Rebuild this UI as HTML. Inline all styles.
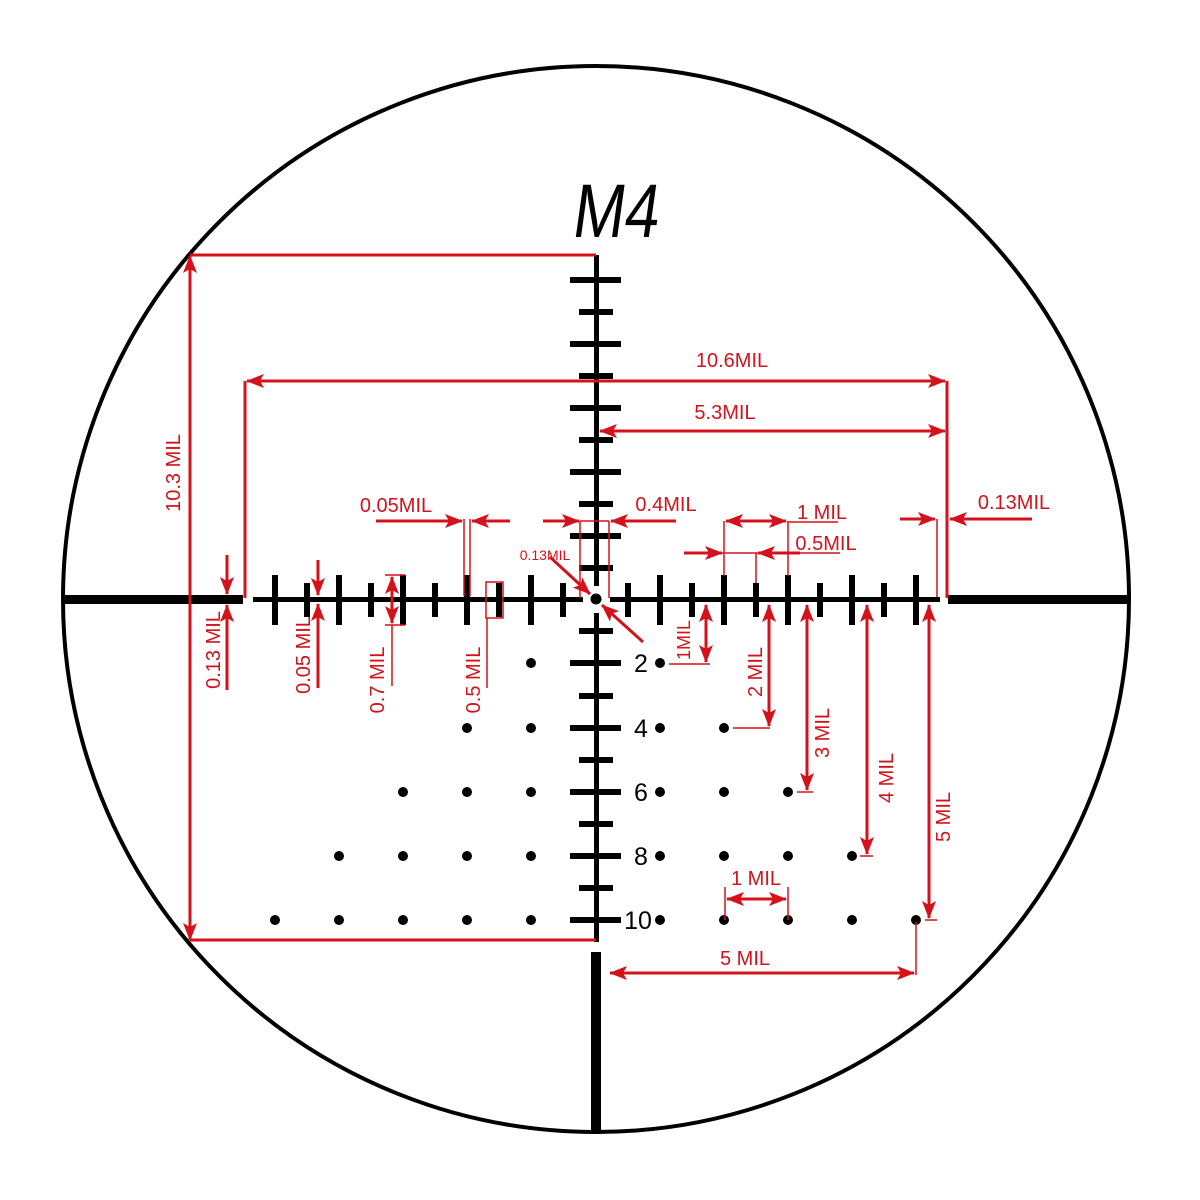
<!DOCTYPE html>
<html><head><meta charset="utf-8"><style>
html,body{margin:0;padding:0;background:#fff;}
svg{display:block;}
text{font-family:"Liberation Sans",sans-serif;}
</style></head><body>
<svg width="1200" height="1200" viewBox="0 0 1200 1200" xmlns="http://www.w3.org/2000/svg">
<defs>
<marker id="a" viewBox="0 0 18 14" refX="17" refY="7" markerWidth="18" markerHeight="14" markerUnits="userSpaceOnUse" orient="auto-start-reverse">
<path d="M0,0 L18,7 L0,14 L4,7 z" fill="#d3121c"/>
</marker>
</defs>
<rect width="1200" height="1200" fill="#fff"/>
<circle cx="596" cy="599" r="533" fill="none" stroke="#000" stroke-width="4"/>
<!-- thick bars -->
<rect x="62" y="595" width="181" height="9" fill="#000"/>
<rect x="948" y="595" width="180" height="9" fill="#000"/>
<rect x="591" y="952" width="10" height="178" fill="#000"/>
<!-- fine lines -->
<g fill="#000">
<rect x="253" y="597" width="330" height="5"/>
<rect x="610" y="597" width="330" height="5"/>
<rect x="594" y="255" width="5" height="331"/>
<rect x="594" y="613" width="5" height="329"/>
<circle cx="596" cy="599" r="5.5"/>
</g>
<!-- horizontal ticks -->
<g stroke="#000" stroke-width="6">
<line x1="275" y1="575" x2="275" y2="625"/><line x1="307" y1="583" x2="307" y2="617"/>
<line x1="339" y1="575" x2="339" y2="625"/><line x1="371" y1="583" x2="371" y2="617"/>
<line x1="403" y1="575" x2="403" y2="625"/><line x1="435" y1="583" x2="435" y2="617"/>
<line x1="467" y1="575" x2="467" y2="625"/><line x1="499" y1="583" x2="499" y2="617"/>
<line x1="531" y1="575" x2="531" y2="625"/><line x1="563" y1="583" x2="563" y2="617"/>
<line x1="628" y1="583" x2="628" y2="617"/><line x1="660" y1="575" x2="660" y2="625"/>
<line x1="692" y1="583" x2="692" y2="617"/><line x1="724" y1="575" x2="724" y2="625"/>
<line x1="756" y1="583" x2="756" y2="617"/><line x1="788" y1="575" x2="788" y2="625"/>
<line x1="820" y1="583" x2="820" y2="617"/><line x1="852" y1="575" x2="852" y2="625"/>
<line x1="884" y1="583" x2="884" y2="617"/><line x1="916" y1="575" x2="916" y2="625"/>
</g>
<!-- vertical ticks -->
<g stroke="#000" stroke-width="6">
<line x1="570" y1="280" x2="621" y2="280"/><line x1="579" y1="312" x2="613" y2="312"/>
<line x1="570" y1="344" x2="621" y2="344"/><line x1="579" y1="376" x2="613" y2="376"/>
<line x1="570" y1="408" x2="621" y2="408"/><line x1="579" y1="440" x2="613" y2="440"/>
<line x1="570" y1="472" x2="621" y2="472"/><line x1="579" y1="504" x2="613" y2="504"/>
<line x1="570" y1="536" x2="621" y2="536"/><line x1="579" y1="568" x2="613" y2="568"/>
<line x1="579" y1="631" x2="613" y2="631"/><line x1="570" y1="663" x2="621" y2="663"/>
<line x1="579" y1="696" x2="613" y2="696"/><line x1="570" y1="728" x2="621" y2="728"/>
<line x1="579" y1="760" x2="613" y2="760"/><line x1="570" y1="792" x2="621" y2="792"/>
<line x1="579" y1="824" x2="613" y2="824"/><line x1="570" y1="856" x2="621" y2="856"/>
<line x1="579" y1="888" x2="613" y2="888"/><line x1="570" y1="920" x2="621" y2="920"/>
</g>
<!-- dots -->
<g fill="#000">
<circle cx="531" cy="663" r="5"/><circle cx="660" cy="663" r="5"/>
<circle cx="467" cy="728" r="5"/><circle cx="531" cy="728" r="5"/><circle cx="660" cy="728" r="5"/><circle cx="724" cy="728" r="5"/>
<circle cx="403" cy="792" r="5"/><circle cx="467" cy="792" r="5"/><circle cx="531" cy="792" r="5"/><circle cx="660" cy="792" r="5"/><circle cx="724" cy="792" r="5"/><circle cx="788" cy="792" r="5"/>
<circle cx="339" cy="856" r="5"/><circle cx="403" cy="856" r="5"/><circle cx="467" cy="856" r="5"/><circle cx="531" cy="856" r="5"/><circle cx="660" cy="856" r="5"/><circle cx="724" cy="856" r="5"/><circle cx="788" cy="856" r="5"/><circle cx="852" cy="856" r="5"/>
<circle cx="275" cy="920" r="5"/><circle cx="339" cy="920" r="5"/><circle cx="403" cy="920" r="5"/><circle cx="467" cy="920" r="5"/><circle cx="531" cy="920" r="5"/><circle cx="660" cy="920" r="5"/><circle cx="724" cy="920" r="5"/><circle cx="788" cy="920" r="5"/><circle cx="852" cy="920" r="5"/><circle cx="916" cy="920" r="5"/>
</g>
<g font-size="25" fill="#000" text-anchor="middle">
<text x="641" y="672">2</text><text x="641" y="737">4</text><text x="641" y="801">6</text><text x="641" y="865">8</text><text x="638" y="929">10</text>
</g>
<text x="572" y="237" font-size="76" fill="#000" textLength="86" lengthAdjust="spacingAndGlyphs" transform="skewX(-8) translate(32 0)">M4</text>

<!-- red annotations -->
<g stroke="#d3121c" fill="none" stroke-width="3">
<!-- 10.3 -->
<line x1="190" y1="255" x2="596" y2="255"/>
<line x1="190" y1="940" x2="596" y2="940"/>
<line x1="190" y1="940" x2="190" y2="256" marker-end="url(#a)" marker-start="url(#a)"/>
<!-- 10.6 -->
<line x1="245" y1="381" x2="245" y2="598"/>
<line x1="947" y1="381" x2="947" y2="598"/>
<line x1="247" y1="381" x2="945" y2="381" marker-end="url(#a)" marker-start="url(#a)"/>
<!-- 5.3 -->
<line x1="600" y1="431" x2="945" y2="431" marker-end="url(#a)" marker-start="url(#a)"/>
<!-- 0.13 left -->
<line x1="227" y1="555" x2="227" y2="594" marker-end="url(#a)"/>
<line x1="227" y1="690" x2="227" y2="605" marker-end="url(#a)"/>
<!-- 0.05 left -->
<line x1="318" y1="560" x2="318" y2="595" marker-end="url(#a)"/>
<line x1="318" y1="688" x2="318" y2="604" marker-end="url(#a)"/>
<!-- 0.7 -->
<line x1="385" y1="575" x2="405" y2="575" stroke-width="1.5"/>
<line x1="385" y1="625" x2="405" y2="625" stroke-width="1.5"/>
<line x1="392" y1="577" x2="392" y2="623" marker-end="url(#a)" marker-start="url(#a)"/>
<line x1="392" y1="625" x2="392" y2="686" stroke-width="1.5"/>
<!-- 0.5 -->
<rect x="486" y="582" width="17" height="36" stroke-width="1.5"/>
<line x1="487" y1="618" x2="487" y2="688" stroke-width="1.5"/>
<!-- 0.05 top -->
<line x1="376" y1="521" x2="462" y2="521" marker-end="url(#a)"/>
<line x1="510" y1="521" x2="472" y2="521" marker-end="url(#a)"/>
<line x1="464" y1="519" x2="464" y2="596" stroke-width="1.5"/>
<line x1="470" y1="519" x2="470" y2="596" stroke-width="1.5"/>
<!-- 0.4 -->
<line x1="543" y1="521" x2="579" y2="521" marker-end="url(#a)"/>
<line x1="676" y1="521" x2="611" y2="521" marker-end="url(#a)"/>
<line x1="580" y1="521" x2="609" y2="521" stroke-width="1.5"/>
<line x1="580" y1="521" x2="580" y2="598" stroke-width="1.5"/>
<line x1="609" y1="521" x2="609" y2="598" stroke-width="1.5"/>
<!-- 0.13 center -->
<line x1="550" y1="557" x2="590" y2="594" marker-end="url(#a)"/>
<line x1="643" y1="642" x2="602" y2="605" marker-end="url(#a)"/>
<!-- 1 MIL top -->
<line x1="724" y1="521" x2="724" y2="576" stroke-width="1.5"/>
<line x1="788" y1="521" x2="788" y2="576" stroke-width="1.5"/>
<line x1="726" y1="521" x2="786" y2="521" marker-end="url(#a)" marker-start="url(#a)"/>
<line x1="788" y1="522" x2="838" y2="522" stroke-width="1.5"/>
<!-- 0.5 MIL top -->
<line x1="684" y1="553" x2="722" y2="553" marker-end="url(#a)"/>
<line x1="800" y1="553" x2="758" y2="553" marker-end="url(#a)"/>
<line x1="722" y1="553" x2="840" y2="553" stroke-width="1.5"/>
<line x1="756" y1="553" x2="756" y2="583" stroke-width="1.5"/>
<!-- 0.13 right -->
<line x1="900" y1="519" x2="935" y2="519" marker-end="url(#a)"/>
<line x1="1032" y1="519" x2="950" y2="519" marker-end="url(#a)"/>
<line x1="937" y1="519" x2="937" y2="597" stroke-width="1.5"/>
<!-- vertical MILs -->
<line x1="706" y1="605" x2="706" y2="662" marker-end="url(#a)" marker-start="url(#a)"/>
<line x1="669" y1="664" x2="710" y2="664" stroke-width="1.5"/>
<line x1="769" y1="605" x2="769" y2="726" marker-end="url(#a)" marker-start="url(#a)"/>
<line x1="733" y1="728" x2="770" y2="728" stroke-width="1.5"/>
<line x1="807" y1="605" x2="807" y2="790" marker-end="url(#a)" marker-start="url(#a)"/>
<line x1="797" y1="792" x2="813" y2="792" stroke-width="1.5"/>
<line x1="867" y1="605" x2="867" y2="854" marker-end="url(#a)" marker-start="url(#a)"/>
<line x1="860" y1="856" x2="873" y2="856" stroke-width="1.5"/>
<line x1="929" y1="605" x2="929" y2="918" marker-end="url(#a)" marker-start="url(#a)"/>
<line x1="925" y1="920" x2="937" y2="920" stroke-width="1.5"/>
<!-- 1 MIL bottom -->
<line x1="725" y1="887" x2="725" y2="920" stroke-width="1.5"/>
<line x1="788" y1="887" x2="788" y2="920" stroke-width="1.5"/>
<line x1="727" y1="899" x2="786" y2="899" marker-end="url(#a)" marker-start="url(#a)"/>
<!-- 5 MIL bottom -->
<line x1="916" y1="922" x2="916" y2="975" stroke-width="1.5"/>
<line x1="610" y1="973" x2="914" y2="973" marker-end="url(#a)" marker-start="url(#a)"/>
</g>
<g fill="#d3121c" font-size="20">
<text x="732" y="367" text-anchor="middle">10.6MIL</text>
<text x="725" y="419" text-anchor="middle">5.3MIL</text>
<text x="396" y="512" text-anchor="middle">0.05MIL</text>
<text x="666" y="511" text-anchor="middle">0.4MIL</text>
<text x="545" y="560" text-anchor="middle" font-size="14">0.13MIL</text>
<text x="822" y="519" text-anchor="middle">1 MIL</text>
<text x="826" y="550" text-anchor="middle">0.5MIL</text>
<text x="1014" y="509" text-anchor="middle">0.13MIL</text>
<text x="756" y="885" text-anchor="middle">1 MIL</text>
<text x="745" y="965" text-anchor="middle">5 MIL</text>
<text transform="translate(180 473) rotate(-90)" text-anchor="middle">10.3 MIL</text>
<text transform="translate(220 650) rotate(-90)" text-anchor="middle">0.13 MIL</text>
<text transform="translate(310 655) rotate(-90)" text-anchor="middle">0.05 MIL</text>
<text transform="translate(384 680) rotate(-90)" text-anchor="middle">0.7 MIL</text>
<text transform="translate(480 680) rotate(-90)" text-anchor="middle">0.5 MIL</text>
<text transform="translate(690 640) rotate(-90)" text-anchor="middle" font-size="18">1MIL</text>
<text transform="translate(762 672) rotate(-90)" text-anchor="middle">2 MIL</text>
<text transform="translate(829 733) rotate(-90)" text-anchor="middle">3 MIL</text>
<text transform="translate(893 778) rotate(-90)" text-anchor="middle">4 MIL</text>
<text transform="translate(950 817) rotate(-90)" text-anchor="middle">5 MIL</text>
</g>
</svg>
</body></html>
